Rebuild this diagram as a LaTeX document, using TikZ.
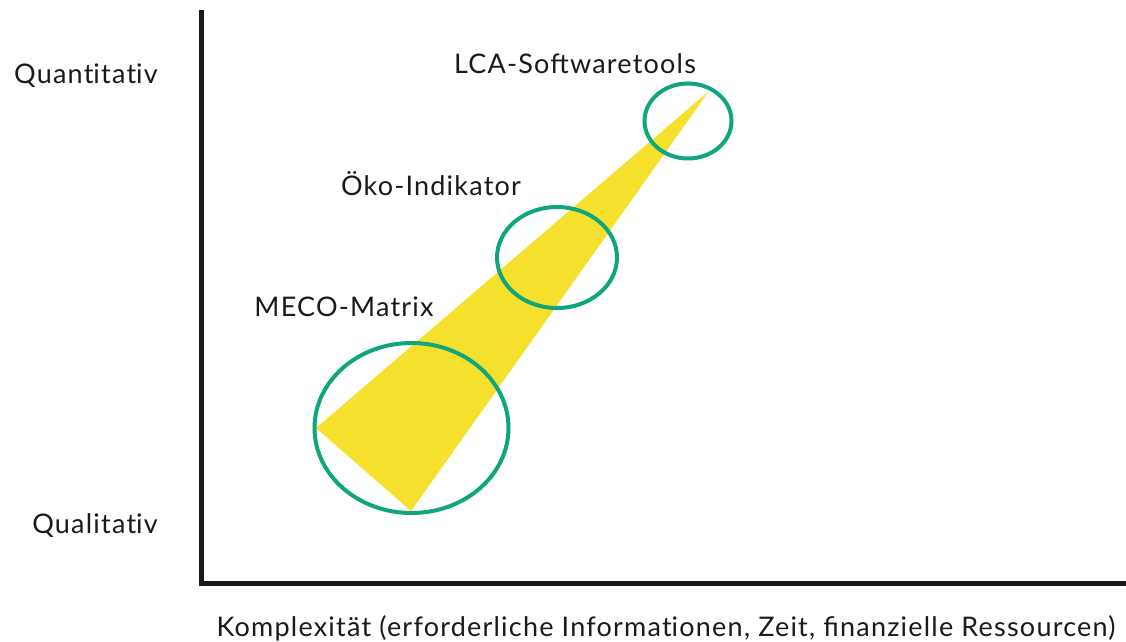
\documentclass[tikz,border=0pt]{standalone}
\usepackage{fontspec}
\setmainfont[LetterSpace=4.5]{Lato}
\usetikzlibrary{shapes.geometric}
\definecolor{ringgreen}{RGB}{16,166,125}
\definecolor{beamyellow}{RGB}{245,225,45}
\definecolor{ink}{RGB}{26,26,26}
\tikzset{
  axisline/.style={line width=5pt, draw=ink},
  ring/.style={draw=ringgreen, line width=4pt, ellipse, inner sep=0pt},
  lbl/.style={font=\fontsize{27}{30}\selectfont, text=ink, inner sep=0pt, anchor=base},
}
\begin{document}
\begin{tikzpicture}[x=1pt, y={(0pt,-1pt)}]
\useasboundingbox (0,0) rectangle (1126,641);
% beam
\coordinate (tl) at (316,428);
\coordinate (tb) at (411,511);
\coordinate (tt) at (709,91);
\fill[beamyellow] (tl) -- (tb) -- (tt) -- cycle;
% rings
\node[ring, minimum width=194pt, minimum height=170pt] (meco) at (411.5,428) {};
\node[ring, minimum width=120pt, minimum height=101pt] (oeko) at (557,257.5) {};
\node[ring, minimum width=87pt, minimum height=75pt] (lca) at (688,121) {};
% axes
\coordinate (origin) at (201.5,583);
\coordinate (ytop) at (201.5,10);
\coordinate (xend) at (1126,583);
\draw[axisline] (ytop) -- (origin) -- (xend);
% labels
\node[lbl, anchor=base east] (quant) at (158,83) {Quant\kern0pt itat\kern0pt iv};
\node[lbl, anchor=base east] (qual) at (158,533) {Qualitat\kern0pt iv};
\node[lbl] (lcat) at (575,73) {LCA-Softwaretools};
\node[lbl] (oekot) at (431,195) {Öko-Indikator};
\node[lbl] (mecot) at (344,316) {MECO-Matrix};
\node[lbl] (xlab) at (666,636) {Komplexität (erforderliche Informat\kern0pt ionen, Zeit, finanzielle Ressourcen)};
\end{tikzpicture}
\end{document}
